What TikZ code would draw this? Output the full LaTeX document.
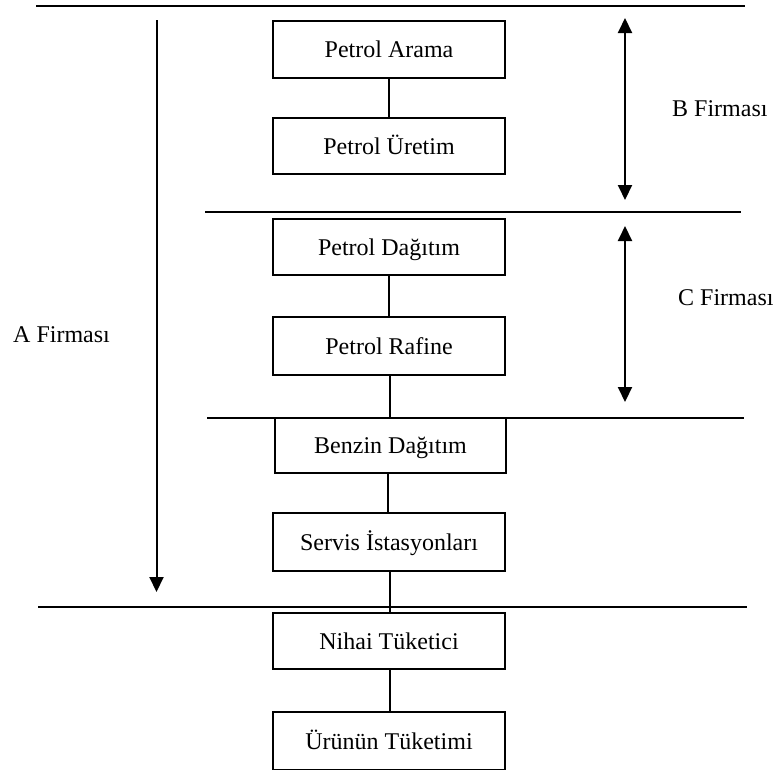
\documentclass[tikz,border=0pt]{standalone}
\usepackage{fontspec}
\setmainfont{Liberation Serif}
\usetikzlibrary{arrows.meta}

\tikzset{
  stagebox/.style={draw, line width=2pt, minimum width=232pt, minimum height=57pt,
    inner sep=0pt, text height=16pt, text depth=0pt,
    font=\fontsize{24}{28}\selectfont},
  firmlabel/.style={inner sep=0pt, anchor=base west, font=\fontsize{24}{28}\selectfont},
  divider/.style={line width=2pt},
  link/.style={line width=2pt},
  span/.style={line width=2pt, -{Triangle[length=15pt,width=14pt]}},
  bispan/.style={line width=2pt, {Triangle[length=15pt,width=14pt]}-{Triangle[length=15pt,width=14pt]}}
}

\begin{document}
\begin{tikzpicture}[x=1pt, y=-1pt]
\useasboundingbox (0,0) rectangle (775,769);

% horizontal dividers between the company segments
\coordinate (d1w) at (36,6);   \coordinate (d1e) at (745,6);
\coordinate (d2w) at (205,212); \coordinate (d2e) at (741,212);
\coordinate (d3w) at (207,418); \coordinate (d3e) at (744,418);
\coordinate (d4w) at (38,607);  \coordinate (d4e) at (747,607);
\draw[divider] (d1w) -- (d1e);
\draw[divider] (d2w) -- (d2e);
\draw[divider] (d3w) -- (d3e);
\draw[divider] (d4w) -- (d4e);

% value chain stages
\node[stagebox] (arama)   at (389,49.5)  {Petrol Arama};
\node[stagebox, minimum height=56pt] (uretim)  at (389,146) {Petrol Üretim};
\node[stagebox, minimum height=56pt] (dagitim) at (389,247) {Petrol Dağıtım};
\node[stagebox, minimum height=58pt] (rafine)  at (389,346) {Petrol Rafine};
\node[stagebox, minimum width=231pt, minimum height=55pt] (benzin) at (390.5,445.7) {Benzin Dağıtım};
\node[stagebox, minimum height=58pt] (servis)  at (389,542) {Servis İstasyonları};
\node[stagebox, minimum height=56pt] (nihai)   at (389,641) {Nihai Tüketici};
\node[stagebox, minimum height=58pt] (urunun)  at (389,741) {Ürünün Tüketimi};

% links between stages
\draw[link] (arama) -- (uretim);
\draw[link] (dagitim) -- (rafine);
\draw[link] ([xshift=1pt]rafine.south) -- ([xshift=1pt]rafine.south |- d3w);
\draw[link] ([xshift=-3pt]benzin.south) -- ([xshift=-3pt]benzin.south |- servis.north);
\draw[link] ([xshift=1pt]servis.south) -- ([xshift=1pt]nihai.north);
\draw[link] ([xshift=1pt]nihai.south) -- ([xshift=1pt]urunun.north);

% company spans
\coordinate (aTop) at (156.5,20);  \coordinate (aBot) at (156.5,592);
\coordinate (bTop) at (625,18);  \coordinate (bBot) at (625,200);
\coordinate (cTop) at (625,226); \coordinate (cBot) at (625,402);
\draw[span] (aTop) -- (aBot);
\draw[bispan] (bTop) -- (bBot);
\draw[bispan] (cTop) -- (cBot);

\node[firmlabel] (firmaA) at (13,342) {A Firması};
\node[firmlabel] (firmaB) at (672,116) {B Firması};
\node[firmlabel] (firmaC) at (678,305) {C Firması};
\end{tikzpicture}
\end{document}
